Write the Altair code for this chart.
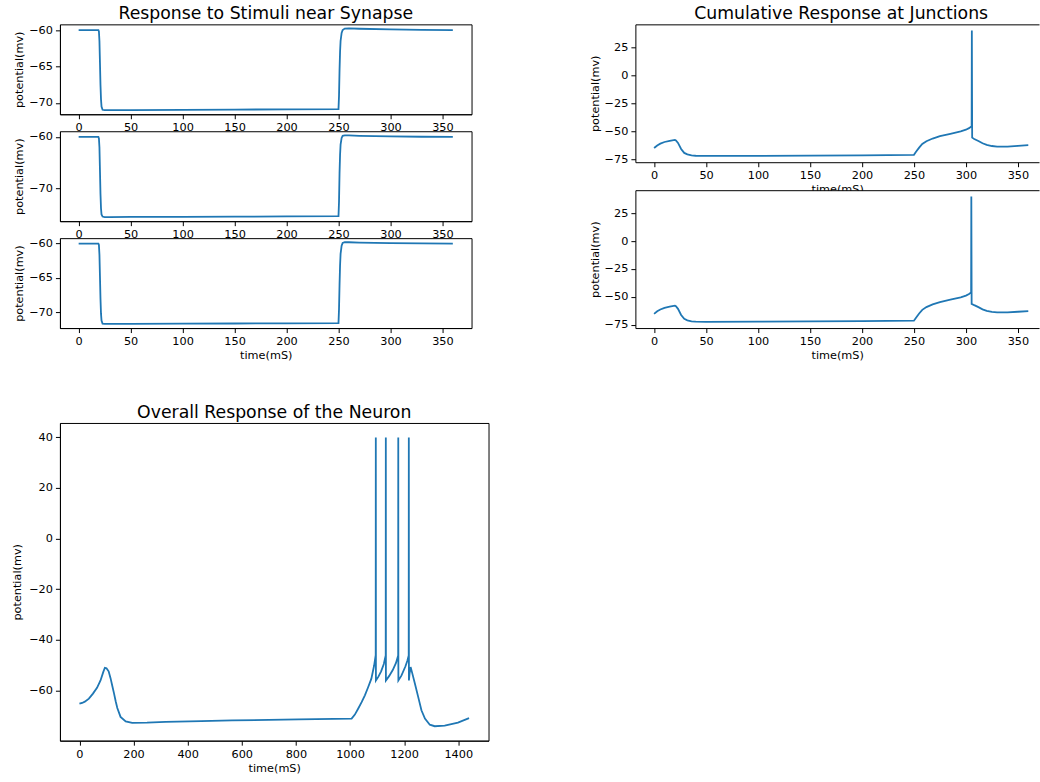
import altair as alt
import pandas as pd

FONT = "DejaVu Sans"
BLUE = "#1f77b4"

# ---------------- data ----------------
# Response to stimuli near synapse (three sites)
syn_t = [0, 19, 19.5, 20, 20.5, 21, 21.5, 22, 23, 25, 30, 50, 100, 150, 200, 250,
         250.5, 251, 251.5, 252, 253, 254, 256, 260, 270, 300, 330, 360]
syn1_v = [-60, -60, -60.2, -61.5, -64.5, -67.5, -69.5, -70.5, -70.95, -71.0, -71.0, -70.98,
          -70.95, -70.92, -70.89, -70.85, -69.0, -65.5, -63.0, -61.5, -60.4, -60.0, -59.8,
          -59.78, -59.82, -59.92, -59.97, -60.0]
syn2_v = [-60, -60, -60.3, -62.0, -66.5, -71.0, -73.8, -75.0, -75.4, -75.5, -75.5, -75.48,
          -75.45, -75.42, -75.38, -75.33, -72.5, -67.0, -63.5, -61.5, -60.2, -59.8, -59.7,
          -59.72, -59.8, -59.92, -59.97, -60.0]
syn3_v = [-60, -60, -60.2, -61.6, -64.8, -68.0, -70.2, -71.2, -71.65, -71.7, -71.7, -71.68,
          -71.66, -71.63, -71.6, -71.57, -69.5, -66.0, -63.2, -61.5, -60.3, -59.9, -59.8,
          -59.8, -59.85, -59.93, -59.97, -60.0]

# Cumulative response at junctions
junc1_t = [0, 3, 6, 10, 15, 20, 21, 23, 26, 29, 32, 36, 40, 50, 100, 150, 200, 250, 252, 255,
           258, 262, 268, 275, 285, 295, 300, 303, 305.5, 305.7, 306, 308, 312, 316, 320, 325,
           330, 340, 350, 360]
junc1_v = [-65.1, -62.8, -61.2, -59.7, -58.6, -57.8, -58.3, -60.5, -66.0, -69.5, -70.8, -71.7,
           -72.0, -72.2, -72.1, -71.9, -71.6, -71.2, -68.5, -64.8, -61.5, -59.0, -56.6, -54.5,
           -52.4, -50.2, -48.7, -47.3, -45.6, 40.0, -55.8, -57.0, -58.8, -60.8, -62.3, -63.3,
           -63.8, -63.8, -63.2, -62.6]
junc2_t = [0, 3, 6, 10, 15, 20, 21, 23, 26, 29, 32, 36, 40, 50, 100, 150, 200, 250, 252, 255,
           258, 262, 268, 275, 285, 295, 300, 303, 305.0, 305.2, 305.5, 308, 312, 316, 320, 325,
           330, 340, 350, 360]
junc2_v = [-65.3, -63.0, -61.4, -59.9, -58.8, -58.0, -58.5, -60.8, -66.3, -69.8, -71.1, -72.0,
           -72.3, -72.4, -72.3, -72.1, -71.8, -71.4, -68.7, -65.0, -61.7, -59.2, -56.8, -54.7,
           -52.6, -50.4, -48.9, -47.5, -46.0, 40.0, -56.3, -57.5, -59.3, -61.2, -62.6, -63.6,
           -64.0, -64.0, -63.4, -62.8]

# Overall response of the neuron
neuron_t = [0, 10, 20, 35, 50, 65, 78, 88, 94, 100, 108, 115, 122, 128, 134, 140, 152, 171, 195,
            250, 318, 450, 564, 700, 810, 1006, 1018, 1030, 1043, 1055, 1067, 1079, 1089, 1095,
            1095.4, 1095.8, 1105, 1115, 1125, 1132, 1132.4, 1132.8, 1145, 1158, 1170, 1178,
            1178.4, 1178.8, 1190, 1205, 1212, 1217, 1217.4, 1217.8, 1220, 1224, 1230, 1240,
            1252, 1264, 1277, 1295, 1313, 1350, 1399, 1440]
neuron_v = [-65.3, -65.0, -64.5, -63.3, -61.3, -59.0, -56.1, -52.8, -51.1, -51.3, -52.5, -55.2,
            -58.5, -61.3, -64.3, -67.0, -70.5, -72.3, -72.9, -72.8, -72.5, -72.2, -71.9, -71.7,
            -71.5, -71.2, -69.6, -67.3, -64.7, -62.0, -58.8, -55.4, -50.3, -46.1, 40.0, -56.1,
            -54.6, -52.5, -49.6, -46.2, 40.0, -56.1, -54.3, -52.0, -49.2, -46.2, 40.0, -56.1,
            -54.2, -50.5, -48.3, -46.2, 40.0, -56.1, -53.5, -50.8, -53.2, -57.4, -62.6, -67.9,
            -71.2, -73.6, -74.2, -74.0, -72.8, -71.0]

short_ticks = [0, 50, 100, 150, 200, 250, 300, 350]
long_ticks = [0, 200, 400, 600, 800, 1000, 1200, 1400]
syn_yticks_fine = [-70, -65, -60]
syn_yticks_coarse = [-70, -60]
junc_yticks = [-75, -50, -25, 0, 25]
neuron_yticks = [-60, -40, -20, 0, 20, 40]


def dom(vals, frac=0.05):
    lo, hi = min(vals), max(vals)
    pad = (hi - lo) * frac
    return [lo - pad, hi + pad]


def make_title(text, dx=0):
    return alt.TitleParams(text=text, font=FONT, fontSize=17.3, fontWeight="normal",
                           color="black", anchor="middle", frame="group",
                           offset=2, dx=dx)


def trace(t, v, xdom, yticks, xticks, xtitle, w, h, title=None, open_right=False, ytp=4):
    df = pd.DataFrame({"t": t, "v": v})
    xs = alt.Scale(domain=xdom, nice=False, zero=False)
    ys = alt.Scale(domain=dom(v), nice=False, zero=False)
    xaxis = alt.Axis(values=xticks, title=xtitle, format="d")
    yaxis = alt.Axis(values=yticks, title="potential(mv)", format="d", titlePadding=ytp)
    line = alt.Chart(df).mark_line(color=BLUE, strokeWidth=1.8, clip=True).encode(
        x=alt.X("t:Q", scale=xs, axis=xaxis),
        y=alt.Y("v:Q", scale=ys, axis=yaxis),
    )
    props = dict(width=w, height=h)
    if title is not None:
        props["title"] = title
    if open_right:
        top = alt.Chart(df).mark_line(strokeOpacity=0).encode(
            x=alt.X("t:Q", scale=xs,
                    axis=alt.Axis(orient="top", labels=False, ticks=False, title=None, domain=True)),
            y=alt.Y("v:Q", scale=ys, axis=yaxis),
        )
        ch = alt.layer(line, top).resolve_axis(x="independent").properties(
            view=alt.ViewBackground(stroke="transparent", fill="white"), **props)
    else:
        ch = line.properties(**props)
    return ch


AW, AH = 412, 90
short_dom = [-18, 378]
BW, BH = 404, 138
b_dom = [-18, -18 + BW * 396 / 412]

A1 = trace(syn_t, syn1_v, short_dom, syn_yticks_fine, short_ticks, None, AW, AH,
           title=make_title("Response to Stimuli near Synapse"))
A2 = trace(syn_t, syn2_v, short_dom, syn_yticks_coarse, short_ticks, None, AW, AH)
A3 = trace(syn_t, syn3_v, short_dom, syn_yticks_fine, short_ticks, "time(mS)", AW, AH)

B1 = trace(junc1_t, junc1_v, b_dom, junc_yticks, short_ticks, "time(mS)", BW, BH,
           title=make_title("Cumulative Response at Junctions", dx=4), open_right=True)
B2 = trace(junc2_t, junc2_v, b_dom, junc_yticks, short_ticks, "time(mS)", BW, BH, open_right=True)

C = trace(neuron_t, neuron_v, [-72, 1512], neuron_yticks, long_ticks, "time(mS)", 429, 318,
          title=make_title("Overall Response of the Neuron"), ytp=6)

colA = alt.vconcat(A1, A2, A3, spacing=17, bounds="flush")
colB = alt.vconcat(B1, B2, spacing=28, bounds="flush")
row = alt.hconcat(colA, colB, spacing=116)
chart = alt.vconcat(row, C, spacing=41).properties(
    padding={"left": 11, "top": 3, "right": 0, "bottom": 2},
    background="white",
).configure_view(
    stroke="black", strokeWidth=1, fill="white"
).configure_axis(
    grid=False, labelFont=FONT, labelFontSize=11.3, labelColor="black",
    titleFont=FONT, titleFontSize=11.3, titleFontWeight="normal", titleColor="black",
    domainColor="black", domainWidth=1, tickColor="black", tickWidth=1, tickSize=4.5,
    labelFlush=False, labelOverlap=False,
).configure_axisX(
    labelPadding=3, titlePadding=3,
).configure_axisY(
    labelPadding=3, titlePadding=4,
)

chart.save("out.html", embed_options={"renderer": "svg", "actions": False})
